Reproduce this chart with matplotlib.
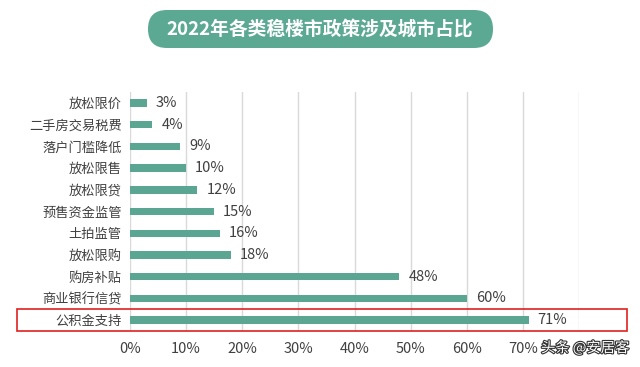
import matplotlib.pyplot as plt
from matplotlib.patches import FancyBboxPatch, Rectangle
import matplotlib.patheffects as pe

plt.rcParams['font.family'] = ['Noto Sans CJK SC', 'DejaVu Sans']

# data, top to bottom as in the chart
categories = ["放松限价", "二手房交易税费", "落户门槛降低", "放松限售", "放松限贷",
              "预售资金监管", "土拍监管", "放松限购", "购房补贴", "商业银行信贷", "公积金支持"]
values = [3, 4, 9, 10, 12, 15, 16, 18, 48, 60, 71]

bar_color = "#5ba693"
text_color = "#404040"

fig = plt.figure(figsize=(6.4, 3.67), dpi=100)
ax = fig.add_axes([0.203, 0.098, 0.702, 0.651])

y = list(range(len(categories)))[::-1]
ax.barh(y, values, height=0.34, color=bar_color, zorder=3)
for yi, v in zip(y, values):
    ax.text(v + 1.6, yi, f"{v}%", va='center', ha='left', fontsize=10.5, color=text_color)

ax.set_xlim(0, 80)
ax.set_ylim(-0.5, len(categories) - 0.5)
ax.set_xticks(range(0, 81, 10))
ax.set_xticklabels([f"{t}%" for t in range(0, 81, 10)][:-1] + [""])
ax.set_yticks(y)
ax.set_yticklabels(categories)
ax.tick_params(axis='y', length=0, labelsize=9.5, colors=text_color, pad=6)
ax.tick_params(axis='x', length=0, labelsize=10.5, colors=text_color, pad=8)
ax.grid(axis='x', color="#d9d9d9", linewidth=1, zorder=0)
for s in ax.spines.values():
    s.set_visible(False)

# overlay in pixel units for the decorations
ov = fig.add_axes([0, 0, 1, 1], zorder=5)
ov.set_xlim(0, 640)
ov.set_ylim(367, 0)
ov.axis('off')
ov.patch.set_alpha(0)

# red highlight box around the last row
ov.add_patch(Rectangle((17, 309), 610, 22, fill=False, edgecolor="#e02020", linewidth=1.2))

# title pill
ov.add_patch(FancyBboxPatch((148, 10), 345, 38, boxstyle="round,pad=0,rounding_size=19",
                            facecolor="#5ba893", edgecolor="none"))
ov.text(320, 29, "2022年各类稳楼市政策涉及城市占比", ha='center', va='center',
        fontsize=13.5, fontweight='bold', color='white')

# watermark
ov.text(629, 348, "头条 @安居客", ha='right', va='center', fontsize=10.3, color="white",
        path_effects=[pe.withStroke(linewidth=1.6, foreground="#333333")])

fig.savefig("out.png", dpi=100)
